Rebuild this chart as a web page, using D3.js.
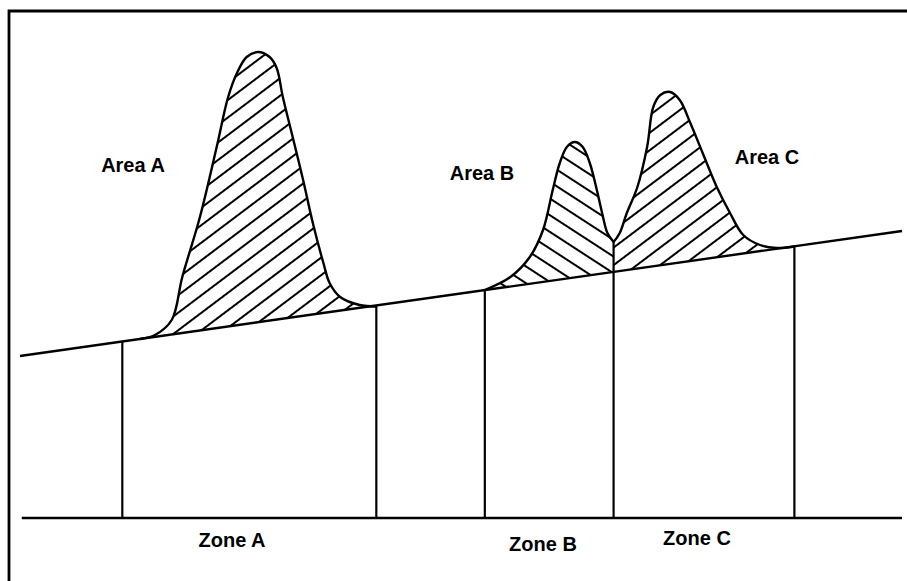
<!DOCTYPE html>
<html>
<head>
<meta charset="utf-8">
<script src="https://cdn.jsdelivr.net/npm/d3@7"></script>
<style>
  html, body { margin: 0; padding: 0; background: #fff; }
  svg { display: block; }
  text { font-family: "Liberation Sans", Arial, Helvetica, sans-serif; font-weight: bold; fill: #000; }
</style>
</head>
<body>
<svg id="chart" width="907" height="581"></svg>
<script>
// Signal trace (time, response) for each peak group
const peakA = [
  [13.6, 35.8], [15.3, 36.6], [17.2, 39.6], [18.4, 48.2], [20.4, 60.2],
  [22.3, 74.2], [23.6, 84.2], [24.6, 89.0], [25.7, 92.2], [27.0, 93.2],
  [28.3, 92.2], [29.1, 90.0], [29.8, 84.2], [31.0, 75.6], [32.1, 67.6],
  [33.2, 59.0], [34.4, 51.0], [35.1, 47.0], [36.3, 44.2], [38.5, 42.6],
  [40.4, 42.3]
];
const peakB = [
  [52.7, 45.6], [55.6, 48.2], [57.8, 52.2], [59.3, 57.6], [60.4, 65.6],
  [61.2, 71.0], [62.0, 74.2], [62.9, 75.2], [63.8, 74.2], [64.6, 71.0],
  [65.4, 65.6], [66.0, 61.0], [66.6, 57.0], [67.3, 55.2]
];
const peakC = [
  [67.3, 55.2], [68.0, 57.0], [68.8, 61.0], [70.0, 66.2], [71.1, 74.2],
  [71.8, 82.2], [72.6, 84.6], [73.7, 85.2], [74.8, 83.6], [76.0, 79.0],
  [77.4, 73.0], [79.0, 66.2], [80.5, 61.0], [82.0, 56.6], [83.9, 54.6],
  [85.8, 54.0], [87.8, 54.3]
];
// Drifting baseline: response at start and end of the run
const baselineEnds = [[0, 32.4], [100, 57.4]];
// Zone boundaries (time)
const zoneBounds = [11.6, 40.4, 52.7, 67.3, 87.8];
const zoneLabels = ["Zone A", "Zone B", "Zone C"];
const areaLabels = ["Area A", "Area B", "Area C"];

const svg = d3.select("#chart");
const x = d3.scaleLinear().domain([0, 100]).range([20, 902]);
const y = d3.scaleLinear().domain([0, 100]).range([518, 18]);
const base = d3.scaleLinear()
  .domain(baselineEnds.map(d => d[0]))
  .range(baselineEnds.map(d => d[1]));

// Hatch patterns
const defs = svg.append("defs");
function hatch(id, angle, gap) {
  const p = defs.append("pattern")
    .attr("id", id)
    .attr("patternUnits", "userSpaceOnUse")
    .attr("width", 20).attr("height", gap)
    .attr("patternTransform", `rotate(${angle})`);
  p.append("line")
    .attr("x1", -2).attr("x2", 22)
    .attr("y1", gap / 2).attr("y2", gap / 2)
    .attr("stroke", "#000").attr("stroke-width", 2);
}
hatch("hatchUp", -37, 14);
hatch("hatchDown", 33, 14);

const curve = d3.curveCatmullRom.alpha(0.5);
const area = d3.area()
  .x(d => x(d[0]))
  .y0(d => y(base(d[0])))
  .y1(d => y(d[1]))
  .curve(curve);
const line = d3.line()
  .x(d => x(d[0]))
  .y(d => y(d[1]))
  .curve(curve);

const peaks = [
  { data: peakA, fill: "url(#hatchUp)" },
  { data: peakB, fill: "url(#hatchDown)" },
  { data: peakC, fill: "url(#hatchUp)" }
];

peaks.forEach(pk => {
  svg.append("path")
    .attr("d", area(pk.data))
    .attr("fill", pk.fill)
    .attr("stroke", "none");
});

// Baseline
svg.append("path")
  .attr("d", d3.line().x(d => x(d[0])).y(d => y(d[1]))(baselineEnds))
  .attr("fill", "none").attr("stroke", "#000").attr("stroke-width", 2.4);

// Peak outlines
peaks.forEach(pk => {
  svg.append("path")
    .attr("d", line(pk.data))
    .attr("fill", "none")
    .attr("stroke", "#000").attr("stroke-width", 2.4)
    .attr("stroke-linejoin", "round");
});

// Zone dividers: from the trace (or baseline) down to the time axis
function traceAt(t) {
  for (const pk of [peakB, peakC]) {
    for (const d of pk) if (Math.abs(d[0] - t) < 1e-6) return d[1];
  }
  return base(t);
}
svg.selectAll("line.zone")
  .data(zoneBounds)
  .join("line")
  .attr("class", "zone")
  .attr("x1", d => x(d)).attr("x2", d => x(d))
  .attr("y1", d => y(traceAt(d)))
  .attr("y2", y(0))
  .attr("stroke", "#000").attr("stroke-width", 2.2);

// Time axis
svg.append("line")
  .attr("x1", x(0.2)).attr("x2", x(100))
  .attr("y1", y(0)).attr("y2", y(0))
  .attr("stroke", "#000").attr("stroke-width", 2.4);

// Frame
svg.append("path")
  .attr("d", "M9,581 V11 H907")
  .attr("fill", "none").attr("stroke", "#000").attr("stroke-width", 2.8);

// Labels
const labelPos = {
  "Area A": [133, 172], "Area B": [482, 180], "Area C": [767, 164],
  "Zone A": [232, 547], "Zone B": [543, 551], "Zone C": [697, 545]
};
svg.selectAll("text.lbl")
  .data(areaLabels.concat(zoneLabels))
  .join("text")
  .attr("class", "lbl")
  .attr("x", d => labelPos[d][0])
  .attr("y", d => labelPos[d][1])
  .attr("text-anchor", "middle")
  .attr("font-size", 20)
  .text(d => d);
</script>
</body>
</html>
